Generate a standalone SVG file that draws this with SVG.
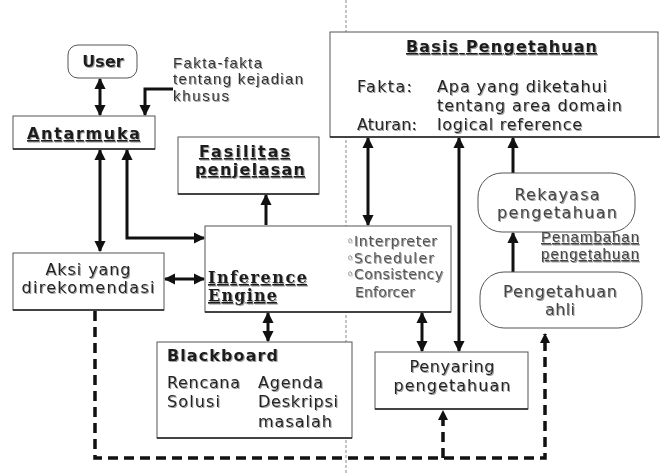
<svg xmlns="http://www.w3.org/2000/svg" width="661" height="474" viewBox="0 0 661 474">
<defs>
<style>
.box{fill:#fff;stroke:#555;stroke-width:1}
.edge{stroke:#222;stroke-width:1.5}
text{filter:url(#sh)}
.t{font-family:"DejaVu Sans",Verdana,sans-serif;fill:#222;font-size:16px}
.b{font-family:"DejaVu Sans",Verdana,sans-serif;font-weight:bold;fill:#1a1a1a;font-size:16px}
.u{text-decoration:underline}
.s{font-family:"DejaVu Serif",serif;font-weight:bold;fill:#1a1a1a;font-size:16px}
.l{font-family:"Liberation Sans",Arial,sans-serif;fill:#333;font-size:15px}
.g{fill:#444}
.li{font-family:"DejaVu Sans",Verdana,sans-serif;fill:#555;font-size:14px}
.c{fill:none;stroke:#111;stroke-width:3}
.d{fill:none;stroke:#111;stroke-width:3.5;stroke-dasharray:10 6}
</style>
<filter id="sh" x="-5%" y="-20%" width="110%" height="140%">
<feDropShadow dx="1" dy="1" stdDeviation="0.7" flood-color="#888" flood-opacity="0.8"/>
</filter>
<marker id="ah" viewBox="0 0 10 10" refX="9" refY="5" markerWidth="3.8" markerHeight="3.8" orient="auto-start-reverse" markerUnits="strokeWidth">
<path d="M0,0 L10,5 L0,10 z" fill="#111"/>
</marker>
<marker id="dh" viewBox="0 0 10 10" refX="9" refY="5" markerWidth="3" markerHeight="3" orient="auto" markerUnits="strokeWidth">
<path d="M0,0 L10,5 L0,10 z" fill="#111"/>
</marker>
</defs>
<rect width="661" height="474" fill="#fff"/>

<line x1="346" y1="0" x2="346" y2="474" stroke="#888" stroke-width="1" stroke-dasharray="3 2"/>

<g id="connectors">
<line class="c" x1="100" y1="79" x2="100" y2="115" marker-start="url(#ah)" marker-end="url(#ah)"/>
<polyline class="c" points="173,89 145,89 145,115" marker-end="url(#ah)"/>
<line class="c" x1="100" y1="150" x2="100" y2="251" marker-start="url(#ah)" marker-end="url(#ah)"/>
<polyline class="c" points="127,150 127,238 204,238" marker-start="url(#ah)" marker-end="url(#ah)"/>
<line class="c" x1="266" y1="225" x2="266" y2="195" marker-end="url(#ah)"/>
<line class="c" x1="165" y1="279" x2="204" y2="279" marker-start="url(#ah)" marker-end="url(#ah)"/>
<line class="c" x1="268" y1="313" x2="268" y2="341" marker-start="url(#ah)" marker-end="url(#ah)"/>
<line class="c" x1="368" y1="138" x2="368" y2="225" marker-start="url(#ah)" marker-end="url(#ah)"/>
<line class="c" x1="459" y1="138" x2="459" y2="351" marker-start="url(#ah)" marker-end="url(#ah)"/>
<line class="c" x1="422" y1="313" x2="422" y2="351" marker-start="url(#ah)" marker-end="url(#ah)"/>
<line class="c" x1="513" y1="173" x2="513" y2="138" marker-end="url(#ah)"/>
<line class="c" x1="513" y1="272" x2="513" y2="233" marker-end="url(#ah)"/>
<polyline class="d" points="95,311 95,458 545,458 545,334" marker-end="url(#dh)"/>
<line class="d" x1="443" y1="458" x2="443" y2="411" marker-end="url(#dh)"/>
</g>

<g id="user">
<rect class="box" x="68" y="45" width="69" height="33" rx="10"/>
<text class="b" x="103" y="67" text-anchor="middle">User</text>
</g>

<g id="fakta-label">
<text class="l" x="173" y="68" textLength="89" lengthAdjust="spacing">Fakta-fakta</text>
<text class="l" x="173" y="84" textLength="130" lengthAdjust="spacing">tentang kejadian</text>
<text class="l" x="173" y="101" textLength="56" lengthAdjust="spacing">khusus</text>
</g>

<g id="antarmuka">
<rect class="box" x="13" y="116" width="142" height="33"/>
<line class="edge" x1="13" y1="149" x2="155" y2="149"/>
<text class="b u" x="27" y="139" textLength="113" lengthAdjust="spacing">Antarmuka</text>
</g>

<g id="fasilitas">
<rect class="box" x="178" y="137" width="141" height="57"/>
<line class="edge" x1="178" y1="194" x2="319" y2="194"/>
<text class="b u" x="199" y="157" textLength="91" lengthAdjust="spacing">Fasilitas</text>
<text class="b u" x="195" y="175" textLength="110" lengthAdjust="spacing">penjelasan</text>
</g>

<g id="basis">
<rect class="box" x="330" y="32" width="328" height="105"/>
<line class="edge" x1="330" y1="137" x2="660" y2="137" stroke-width="2"/>
<text class="b u" x="406" y="52" textLength="191" lengthAdjust="spacing">Basis Pengetahuan</text>
<text class="t" x="357" y="92" textLength="55" lengthAdjust="spacing">Fakta:</text>
<text class="t" x="437" y="92" textLength="170" lengthAdjust="spacing">Apa yang diketahui</text>
<text class="t" x="437" y="111" textLength="185" lengthAdjust="spacing">tentang area domain</text>
<text class="t" x="357" y="130" textLength="60" lengthAdjust="spacing">Aturan:</text>
<text class="t" x="437" y="130" textLength="145" lengthAdjust="spacing">logical reference</text>
</g>

<g id="inference">
<rect class="box" x="205" y="226" width="246" height="86"/>
<line class="edge" x1="205" y1="312" x2="451" y2="312"/>
<text class="s u" x="208" y="283" textLength="99" lengthAdjust="spacing">Inference</text>
<text class="s u" x="208" y="301" textLength="69" lengthAdjust="spacing">Engine</text>
<text class="li" x="346" y="246">◦<tspan x="354" textLength="83" lengthAdjust="spacing">Interpreter</tspan></text>
<text class="li" x="346" y="263">◦<tspan x="354" textLength="80" lengthAdjust="spacing">Scheduler</tspan></text>
<text class="li" x="346" y="279">◦<tspan x="354" textLength="89" lengthAdjust="spacing">Consistency</tspan></text>
<text class="li" x="355" y="297" textLength="60" lengthAdjust="spacing">Enforcer</text>
</g>

<g id="aksi">
<rect class="box" x="13" y="253" width="151" height="57"/>
<line class="edge" x1="13" y1="310" x2="164" y2="310"/>
<text class="t" x="88" y="275" text-anchor="middle" textLength="85" lengthAdjust="spacing">Aksi yang</text>
<text class="t" x="88" y="293" text-anchor="middle" textLength="133" lengthAdjust="spacing">direkomendasi</text>
</g>

<g id="blackboard">
<rect class="box" x="157" y="342" width="195" height="96"/>
<line class="edge" x1="157" y1="438" x2="352" y2="438"/>
<text class="b" x="167" y="361" textLength="111" lengthAdjust="spacing">Blackboard</text>
<text class="t" x="167" y="388" textLength="73" lengthAdjust="spacing">Rencana</text>
<text class="t" x="258" y="388" textLength="65" lengthAdjust="spacing">Agenda</text>
<text class="t" x="167" y="407" textLength="53" lengthAdjust="spacing">Solusi</text>
<text class="t" x="258" y="407" textLength="80" lengthAdjust="spacing">Deskripsi</text>
<text class="t" x="258" y="427" textLength="74" lengthAdjust="spacing">masalah</text>
</g>

<g id="penyaring">
<rect class="box" x="375" y="352" width="153" height="57"/>
<line class="edge" x1="375" y1="409" x2="528" y2="409"/>
<text class="t" x="452" y="372" text-anchor="middle" textLength="85" lengthAdjust="spacing">Penyaring</text>
<text class="t" x="452" y="391" text-anchor="middle" textLength="117" lengthAdjust="spacing">pengetahuan</text>
</g>

<g id="rekayasa">
<rect class="box" x="478" y="173" width="157" height="59" rx="24"/>
<text class="t g" x="557" y="200" text-anchor="middle" textLength="85" lengthAdjust="spacing">Rekayasa</text>
<text class="t g" x="557" y="218" text-anchor="middle" textLength="120" lengthAdjust="spacing">pengetahuan</text>
</g>

<g id="penambahan-label">
<text class="l u g" x="541" y="242" font-size="12" textLength="98" lengthAdjust="spacing">Penambahan</text>
<text class="l u g" x="541" y="259" font-size="12" textLength="98" lengthAdjust="spacing">pengetahuan</text>
</g>

<g id="pengetahuan-ahli">
<rect class="box" x="480" y="272" width="162" height="56" rx="24"/>
<text class="t g" x="560" y="297" text-anchor="middle" textLength="114" lengthAdjust="spacing">Pengetahuan</text>
<text class="t g" x="560" y="315" text-anchor="middle" textLength="30" lengthAdjust="spacing">ahli</text>
</g>
</svg>
